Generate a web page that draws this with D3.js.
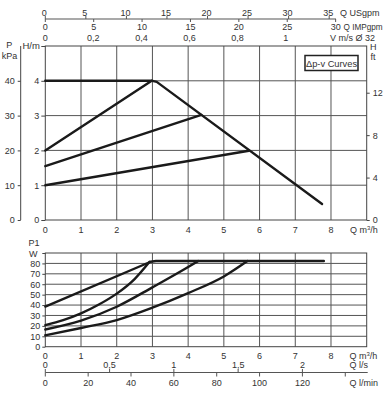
<!DOCTYPE html>
<html><head><meta charset="utf-8">
<script src="https://cdn.jsdelivr.net/npm/d3@7"></script>
<style>
body{margin:0;background:#fff;}
svg{display:block;font-family:"Liberation Sans",Arial,sans-serif;}
text{fill:#333;font-size:9px;}
</style></head><body>
<svg id="c" width="388" height="408"></svg>
<script>
// ---- data ----
const qTicks = [0,1,2,3,4,5,6,7,8];
const hTicks = [0,1,2,3,4];
const kPaTicks = [0,10,20,30,40];
const ftTicks = [0,4,8,12];
const wTicks = [0,10,20,30,40,50,60,70,80];
const usgpmTicks = [0,5,10,15,20,25,30,35];
const impTicks = [0,5,10,15,20,25,30];
const vTicks = [0,0.2,0.4,0.6,0.8,1];
const lsTicks = [0,0.5,1,1.5,2];
const lminTicks = [0,20,40,60,80,100,120,140];

// head curves (Q m3/h, H m)
const hMaxQ = [0,3.0,3.12,7.75];
const hMaxH = [4,4,3.97,0.46];
const h1Q = [0,2.98];  const h1H = [2.0,4.0];
const h2Q = [0,4.37];  const h2H = [1.55,3.02];
const h3Q = [0,5.70];  const h3H = [1.0,1.99];

// power curves (Q m3/h, P1 W)
const pMaxQ = [0,2.95,3.1,7.8];
const pMaxW = [38.5,81.6,82.3,82.3];
const p2Q = [0,0.5,1,1.5,2,2.5,2.92];
const p2W = [20.8,25.5,32,40.5,51,65,81.6];
const p3Q = [0,1,2,3,4,4.28];
const p3W = [16.5,25,38.4,57,76.5,82.3];
const p4Q = [0,1,2,3,4,5,5.66];
const p4W = [11,18,25.6,37.5,51.5,67.5,82.3];

// ---- scales ----
const svg = d3.select("#c");
const x = d3.scaleLinear([0,9],[45.3,366.7]);
const yH = d3.scaleLinear([0,5],[220,46]);
const yK = d3.scaleLinear([0,50],[220,46]);
const yF = d3.scaleLinear([0,5*3.2808],[220,46]);
const yW = d3.scaleLinear([0,90],[346.7,253]);
const xUS = d3.scaleLinear([0,4.4029*9],[45.3,366.7]);
const xIMP = d3.scaleLinear([0,3.69*9],[45.3,366.7]);
const xV = d3.scaleLinear([0,9/6.73],[45.3,366.7]);
const xLS = d3.scaleLinear([0,9/3.6],[45.3,366.7]);
const xLM = d3.scaleLinear([0,9/0.06],[45.3,366.7]);

const gridCol = "#555";
const fmt = d => String(d).replace(".", ",");

function grid(y, yTicks){
  const g = svg.append("g");
  g.selectAll(".v").data(qTicks.slice(1)).join("line")
    .attr("x1",d=>x(d)).attr("x2",d=>x(d))
    .attr("y1",y.range()[0]).attr("y2",y.range()[1])
    .attr("stroke",gridCol).attr("stroke-width",1);
  g.selectAll(".h").data(yTicks.slice(1)).join("line")
    .attr("x1",x(0)).attr("x2",x(9))
    .attr("y1",d=>y(d)).attr("y2",d=>y(d))
    .attr("stroke",gridCol).attr("stroke-width",1);
  g.append("rect").attr("x",x(0)).attr("y",y.range()[1])
    .attr("width",x(9)-x(0)).attr("height",y.range()[0]-y.range()[1])
    .attr("fill","none").attr("stroke","#444").attr("stroke-width",1);
}
grid(yH, hTicks);
grid(yW, wTicks);

function styleAxis(g){
  g.selectAll("text").style("font-size","9px").attr("fill","#333");
  g.selectAll("line").attr("stroke","#444");
  g.select(".domain").attr("stroke","#444");
}
// ---- left/right axes upper ----
svg.append("g").attr("transform",`translate(${x(0)},0)`)
  .call(d3.axisLeft(yH).tickValues([...hTicks,5]).tickSize(4).tickPadding(2)
        .tickFormat(d=>d===5?"":d))
  .call(g=>{g.select(".domain").remove(); styleAxis(g);});
svg.append("text").attr("x",22.5).attr("y",49).text("H/m").style("font-size","9.5px");

svg.append("g").attr("transform","translate(20.7,0)")
  .call(d3.axisLeft(yK).tickValues(kPaTicks).tickSize(3).tickPadding(3).tickSizeOuter(0))
  .call(g=>{g.select(".domain").attr("d",`M0,${yK(0)}V${yK(50)}`); styleAxis(g);});
svg.append("text").attr("x",9.2).attr("y",48).attr("text-anchor","middle").text("P");
svg.append("text").attr("x",9.6).attr("y",58.5).attr("text-anchor","middle").text("kPa");

svg.append("g").attr("transform",`translate(${x(9)},0)`)
  .call(d3.axisRight(yF).tickValues(ftTicks).tickSize(3).tickPadding(3))
  .call(g=>{g.select(".domain").remove(); styleAxis(g);});
svg.append("text").attr("x",370).attr("y",50).text("H");
svg.append("text").attr("x",370.5).attr("y",60).text("ft");

// upper x labels
svg.append("g").selectAll("text").data(qTicks).join("text")
  .attr("x",d=>x(d)).attr("y",232.5).attr("text-anchor","middle").text(d=>d);
svg.append("text").attr("x",350).attr("y",232.5).html('Q m<tspan dy="-3" style="font-size:6px">3</tspan><tspan dy="3">/h</tspan>');

// ---- lower left axis ----
svg.append("g").attr("transform",`translate(${x(0)},0)`)
  .call(d3.axisLeft(yW).tickValues([...wTicks,90]).tickSize(3).tickPadding(2)
        .tickFormat(d=>d===90?"":d))
  .call(g=>{g.select(".domain").remove(); styleAxis(g);});
svg.append("text").attr("x",28.5).attr("y",246).text("P1");
svg.append("text").attr("x",29).attr("y",256.5).text("W");

// lower x labels
svg.append("g").selectAll("text").data(qTicks).join("text")
  .attr("x",d=>x(d)).attr("y",358.5).attr("text-anchor","middle").text(d=>d);
svg.append("text").attr("x",349.5).attr("y",358.5).html('Q m<tspan dy="-3" style="font-size:6px">3</tspan><tspan dy="3">/h</tspan>');

// l/s and l/min axis
const baseY = 372.5;
svg.append("line").attr("x1",x(0)).attr("x2",367.7).attr("y1",baseY).attr("y2",baseY)
  .attr("stroke","#555").attr("stroke-width",1.2);
svg.append("g").selectAll("line").data(lsTicks).join("line")
  .attr("x1",d=>xLS(d)).attr("x2",d=>xLS(d)).attr("y1",baseY-3.5).attr("y2",baseY)
  .attr("stroke","#555");
svg.append("g").selectAll("text").data(lsTicks).join("text")
  .attr("x",d=>xLS(d)).attr("y",367.5).attr("text-anchor","middle").text(fmt);
svg.append("text").attr("x",349.5).attr("y",367.5).text("Q l/s");
svg.append("g").selectAll("line").data(lminTicks).join("line")
  .attr("x1",d=>xLM(d)).attr("x2",d=>xLM(d)).attr("y1",baseY).attr("y2",baseY+4)
  .attr("stroke","#555");
svg.append("g").selectAll("text").data(lminTicks.filter(d=>d<140)).join("text")
  .attr("x",d=>xLM(d)).attr("y",386).attr("text-anchor","middle").text(d=>d);
svg.append("text").attr("x",349.5).attr("y",386).text("Q l/min");

// ---- top axes ----
const topY = 19;
svg.append("line").attr("x1",x(0)).attr("x2",336).attr("y1",topY).attr("y2",topY)
  .attr("stroke","#555").attr("stroke-width",1.2);
svg.append("g").selectAll("line").data(usgpmTicks).join("line")
  .attr("x1",d=>xUS(d)).attr("x2",d=>xUS(d)).attr("y1",topY-3).attr("y2",topY).attr("stroke","#555");
svg.append("g").selectAll("text").data(usgpmTicks).join("text")
  .attr("x",d=>xUS(d)-1).attr("y",16).attr("text-anchor","middle").text(d=>d);
svg.append("text").attr("x",340).attr("y",16).text("Q USgpm");
svg.append("g").selectAll("line").data(impTicks).join("line")
  .attr("x1",d=>xIMP(d)).attr("x2",d=>xIMP(d)).attr("y1",topY).attr("y2",topY+3).attr("stroke","#555");
svg.append("g").selectAll("text").data(impTicks).join("text")
  .attr("x",d=>xIMP(d)).attr("y",30).attr("text-anchor","middle").text(d=>d);
svg.append("text").attr("x",343.5).attr("y",30).text("Q IMPgpm").style("font-size","8.2px");
svg.append("g").selectAll("text").data(vTicks).join("text")
  .attr("x",d=>xV(d)).attr("y",41).attr("text-anchor","middle").text(fmt);
svg.append("text").attr("x",330).attr("y",41).text("V m/s Ø 32");

// ---- legend ----
svg.append("rect").attr("x",305).attr("y",55.5).attr("width",53).attr("height",15)
  .attr("fill","#fff").attr("stroke","#222").attr("stroke-width",1.5);
svg.append("text").attr("x",331.5).attr("y",66.5).attr("text-anchor","middle")
  .style("font-size","9.3px").attr("fill","#111").text("Δp-v Curves");

// ---- curves ----
function curve(qs, vs, y, c){
  const pts = qs.map((q,i)=>[x(q), y(vs[i])]);
  svg.append("path").attr("d", d3.line().curve(c||d3.curveLinear)(pts))
    .attr("fill","none").attr("stroke","#1a1a1a").attr("stroke-width",2.4)
    .attr("stroke-linejoin","round").attr("stroke-linecap","round");
}
curve(h3Q,h3H,yH); curve(h2Q,h2H,yH); curve(h1Q,h1H,yH); curve(hMaxQ,hMaxH,yH);
curve(p4Q,p4W,yW,d3.curveMonotoneX);
curve(p3Q,p3W,yW,d3.curveMonotoneX);
curve(p2Q,p2W,yW,d3.curveMonotoneX);
curve(pMaxQ,pMaxW,yW);
</script>
</body></html>
